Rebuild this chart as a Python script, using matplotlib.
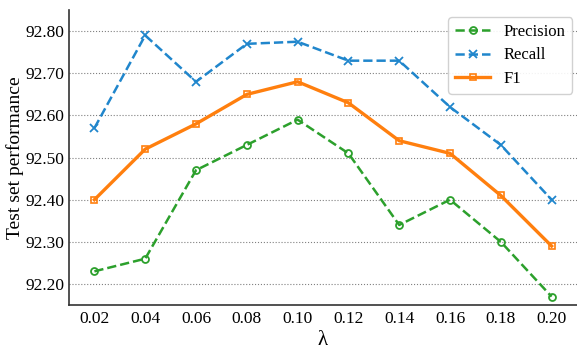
import numpy as np
import matplotlib
matplotlib.use("Agg")
import matplotlib.pyplot as plt

lam = [0.02, 0.04, 0.06, 0.08, 0.10, 0.12, 0.14, 0.16, 0.18, 0.20]
precision = [92.23, 92.26, 92.47, 92.53, 92.59, 92.51, 92.34, 92.40, 92.30, 92.17]
recall = [92.57, 92.79, 92.68, 92.77, 92.775, 92.73, 92.73, 92.62, 92.53, 92.40]
f1 = [92.40, 92.52, 92.58, 92.65, 92.68, 92.63, 92.54, 92.51, 92.41, 92.29]
yticks = [92.2, 92.3, 92.4, 92.5, 92.6, 92.7, 92.8]

plt.rcParams["font.family"] = ["Liberation Serif", "DejaVu Serif"]

fig = plt.figure(figsize=(5.77, 3.49), dpi=100)
ax = fig.add_axes([0.1196, 0.126, 0.8804, 0.845])

ax.plot(lam, precision, "--", color="#2ca02c", lw=1.8, marker="o", ms=5,
        mfc="none", mew=1.3, label="Precision")
ax.plot(lam, recall, "--", color="#2086cc", lw=1.8, marker="x", ms=6,
        mew=1.3, label="Recall")
ax.plot(lam, f1, "-", color="#ff7f0e", lw=2.4, marker="s", ms=5,
        mfc="none", mew=1.2, label="F1")

ax.set_xlim(0.01, 0.21)
ax.set_ylim(92.15, 92.85)
ax.set_xticks(lam)
ax.set_xticklabels(["%.2f" % v for v in lam])
ax.set_yticks(yticks)
ax.set_yticklabels(["%.2f" % v for v in yticks])
ax.tick_params(axis="y", labelsize=12.5, length=0, pad=3)
ax.tick_params(axis="x", labelsize=12.5, length=0, pad=4)
ax.yaxis.grid(True, linestyle=":", color="gray", lw=0.8)
ax.set_axisbelow(True)

for s in ["top", "right"]:
    ax.spines[s].set_visible(False)
for s in ["left", "bottom"]:
    ax.spines[s].set_color("#333333")
    ax.spines[s].set_linewidth(1.2)

ax.set_xlabel("λ", fontsize=15, labelpad=3)
ax.set_ylabel("Test set performance", fontsize=14, labelpad=1)

ax.legend(loc="upper right", fontsize=12, fancybox=True, framealpha=0.9,
          handlelength=2.1, labelspacing=0.45, borderaxespad=0.3,
          bbox_to_anchor=(1.0, 0.993))

fig.savefig("out.png", dpi=100)
